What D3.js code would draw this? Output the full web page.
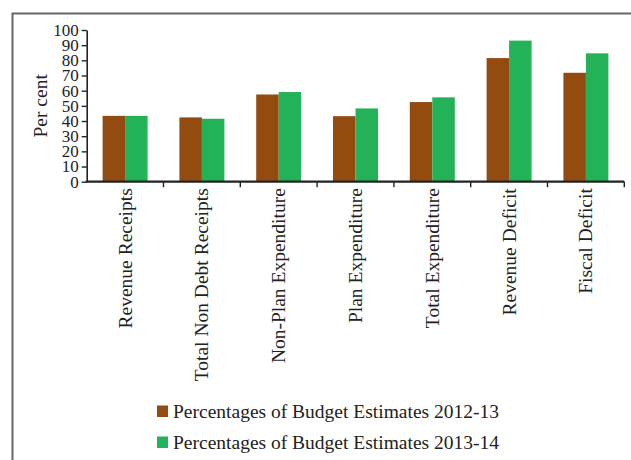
<!DOCTYPE html>
<html>
<head>
<meta charset="utf-8">
<script src="https://cdn.jsdelivr.net/npm/d3@7"></script>
<style>
  html, body { margin: 0; padding: 0; background: #fff; }
  svg { display: block; }
  text { font-family: "Liberation Serif", "Times New Roman", serif; fill: #222; }
</style>
</head>
<body>
<script>
// Categories and series (per cent of budget estimates)
const categories = [
  "Revenue Receipts",
  "Total Non Debt Receipts",
  "Non-Plan Expenditure",
  "Plan Expenditure",
  "Total Expenditure",
  "Revenue Deficit",
  "Fiscal Deficit"
];
const seriesNames = [
  "Percentages of Budget Estimates 2012-13",
  "Percentages of Budget Estimates 2013-14"
];
const values2012 = [43.4, 42.4, 57.5, 43.2, 52.5, 81.5, 71.8];
const values2013 = [43.4, 41.5, 59.1, 48.3, 55.6, 93.0, 84.6];
const yTicks = [0, 10, 20, 30, 40, 50, 60, 70, 80, 90, 100];
const colors = ["#944b10", "#23b257"];

const W = 631, H = 460;
const svg = d3.select("body").append("svg").attr("width", W).attr("height", H);

// Outer frame (open on the right and bottom edges)
svg.append("path")
  .attr("d", `M12.5,${H + 2} V13.5 H${W + 2}`)
  .attr("fill", "none")
  .attr("stroke", "#666")
  .attr("stroke-width", 2);

const x0 = 86.7, x1 = 624.3, yBase = 181.7, yTop = 30;

const x = d3.scaleBand().domain(categories).range([x0, x1]).paddingInner(0).paddingOuter(0);
const xs = d3.scaleBand().domain([0, 1]).range([0, x.bandwidth()]).paddingInner(0).paddingOuter(0.707);
const y = d3.scaleLinear().domain([0, 100]).range([yBase, yTop]);

const rows = categories.map((c, i) => ({ c, v: [values2012[i], values2013[i]] }));

// Bars
const g = svg.append("g");
g.selectAll("g.grp").data(rows).join("g")
  .attr("class", "grp")
  .attr("transform", d => `translate(${x(d.c)},0)`)
  .selectAll("rect").data(d => d.v.map((v, k) => ({ v, k }))).join("rect")
  .attr("x", d => xs(d.k))
  .attr("width", xs.bandwidth())
  .attr("y", d => y(d.v))
  .attr("height", d => y(0) - y(d.v))
  .attr("fill", d => colors[d.k]);

// Y axis
const yAxis = svg.append("g")
  .attr("transform", `translate(${x0},0)`)
  .call(d3.axisLeft(y).tickValues(yTicks).tickSize(5).tickPadding(3).tickSizeOuter(0));
yAxis.select(".domain").attr("stroke", "#222").attr("stroke-width", 1.6);
yAxis.selectAll(".tick line").attr("stroke", "#222").attr("stroke-width", 1.4);
yAxis.selectAll(".tick text")
  .style("font-family", '"Liberation Serif", serif')
  .style("font-size", "17px")
  .attr("fill", "#222");

// X axis with rotated category labels
const xAxis = svg.append("g")
  .attr("transform", `translate(0,${yBase})`)
  .call(d3.axisBottom(x).tickSize(0).tickSizeOuter(0));
xAxis.select(".domain").attr("stroke", "#222").attr("stroke-width", 2.2)
  .attr("d", `M${x0 - 1},0H${x1}`);
xAxis.selectAll(".tick text")
  .style("font-family", '"Liberation Serif", serif')
  .style("font-size", "19.5px")
  .attr("fill", "#222")
  .attr("text-anchor", "end")
  .attr("transform", "rotate(-90)")
  .attr("x", -6.5)
  .attr("y", 0)
  .attr("dy", "0.33em");

// Tick marks at category boundaries
xAxis.selectAll("line.sep").data(categories).join("line")
  .attr("class", "sep")
  .attr("x1", d => x(d) + x.bandwidth())
  .attr("x2", d => x(d) + x.bandwidth())
  .attr("y1", 0)
  .attr("y2", 5.5)
  .attr("stroke", "#222")
  .attr("stroke-width", 1.4);

// Y axis title
svg.append("text")
  .attr("transform", `translate(46.5,${(yBase + yTop) / 2}) rotate(-90)`)
  .attr("text-anchor", "middle")
  .style("font-size", "19.5px")
  .text("Per cent");

// Legend
const legend = svg.append("g");
const lg = legend.selectAll("g").data(seriesNames).join("g")
  .attr("transform", (d, i) => `translate(157,${405.5 + i * 31})`);
lg.append("rect").attr("width", 11).attr("height", 11.5).attr("fill", (d, i) => colors[i]);
lg.append("text")
  .attr("x", 16)
  .attr("y", 12)
  .style("font-size", "19.5px")
  .text(d => d);
</script>
</body>
</html>
